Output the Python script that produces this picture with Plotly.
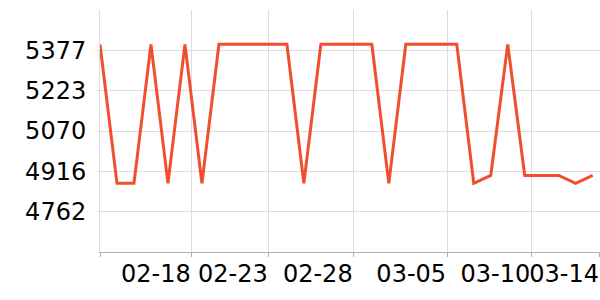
import plotly.graph_objects as go
import pandas as pd

dates = pd.date_range("2025-02-13", periods=30, freq="D").strftime("%Y-%m-%d").tolist()
H, L, M = 5400, 4870, 4900
values = [H, L, L, H, L, H, L, H, H, H,
          H, H, L, H, H, H, H, L, H, H,
          H, H, L, M, H, M, M, M, L, M]

x_tick_vals = ["2025-02-13 00:00", "2025-02-18 09:36", "2025-02-22 22:30",
               "2025-02-27 22:20", "2025-03-05 10:20", "2025-03-10 09:10",
               "2025-03-14 10:18"]
x_tick_text = ["", "02-18", "02-23", "02-28", "03-05", "03-10", "03-14"]
y_tick_vals = [4761.8, 4915.7, 5069.5, 5223.3, 5377.2]
y_tick_text = ["4762", "4916", "5070", "5223", "5377"]

fig = go.Figure(go.Scatter(
    x=dates, y=values, mode="lines",
    line=dict(color="#F04E2E", width=3),
    hoverinfo="skip",
))

fig.update_layout(
    width=600, height=300,
    margin=dict(l=100, r=0, t=10, b=48),
    paper_bgcolor="white", plot_bgcolor="white",
    showlegend=False,
    font=dict(family="DejaVu Sans", size=24, color="black"),
)
fig.update_xaxes(
    type="date",
    range=["2025-02-13 00:00", "2025-03-14 10:19"],
    tickmode="array", tickvals=x_tick_vals, ticktext=x_tick_text,
    ticklabelposition="outside left", tickangle=0,
    showgrid=True, gridcolor="#dddddd", gridwidth=1,
    showline=True, linecolor="#b0b0b0", linewidth=1,
    ticks="outside", ticklen=4, tickcolor="#b0b0b0",
    zeroline=False,
)
fig.update_yaxes(
    range=[4608, 5531],
    tickmode="array", tickvals=y_tick_vals, ticktext=y_tick_text,
    showgrid=True, gridcolor="#dddddd", gridwidth=1,
    showline=True, linecolor="#dddddd", linewidth=1,
    ticks="outside", ticklen=2, tickcolor="#dddddd",
    ticklabelstandoff=6,
    zeroline=False,
)

fig.write_html("out.html")
